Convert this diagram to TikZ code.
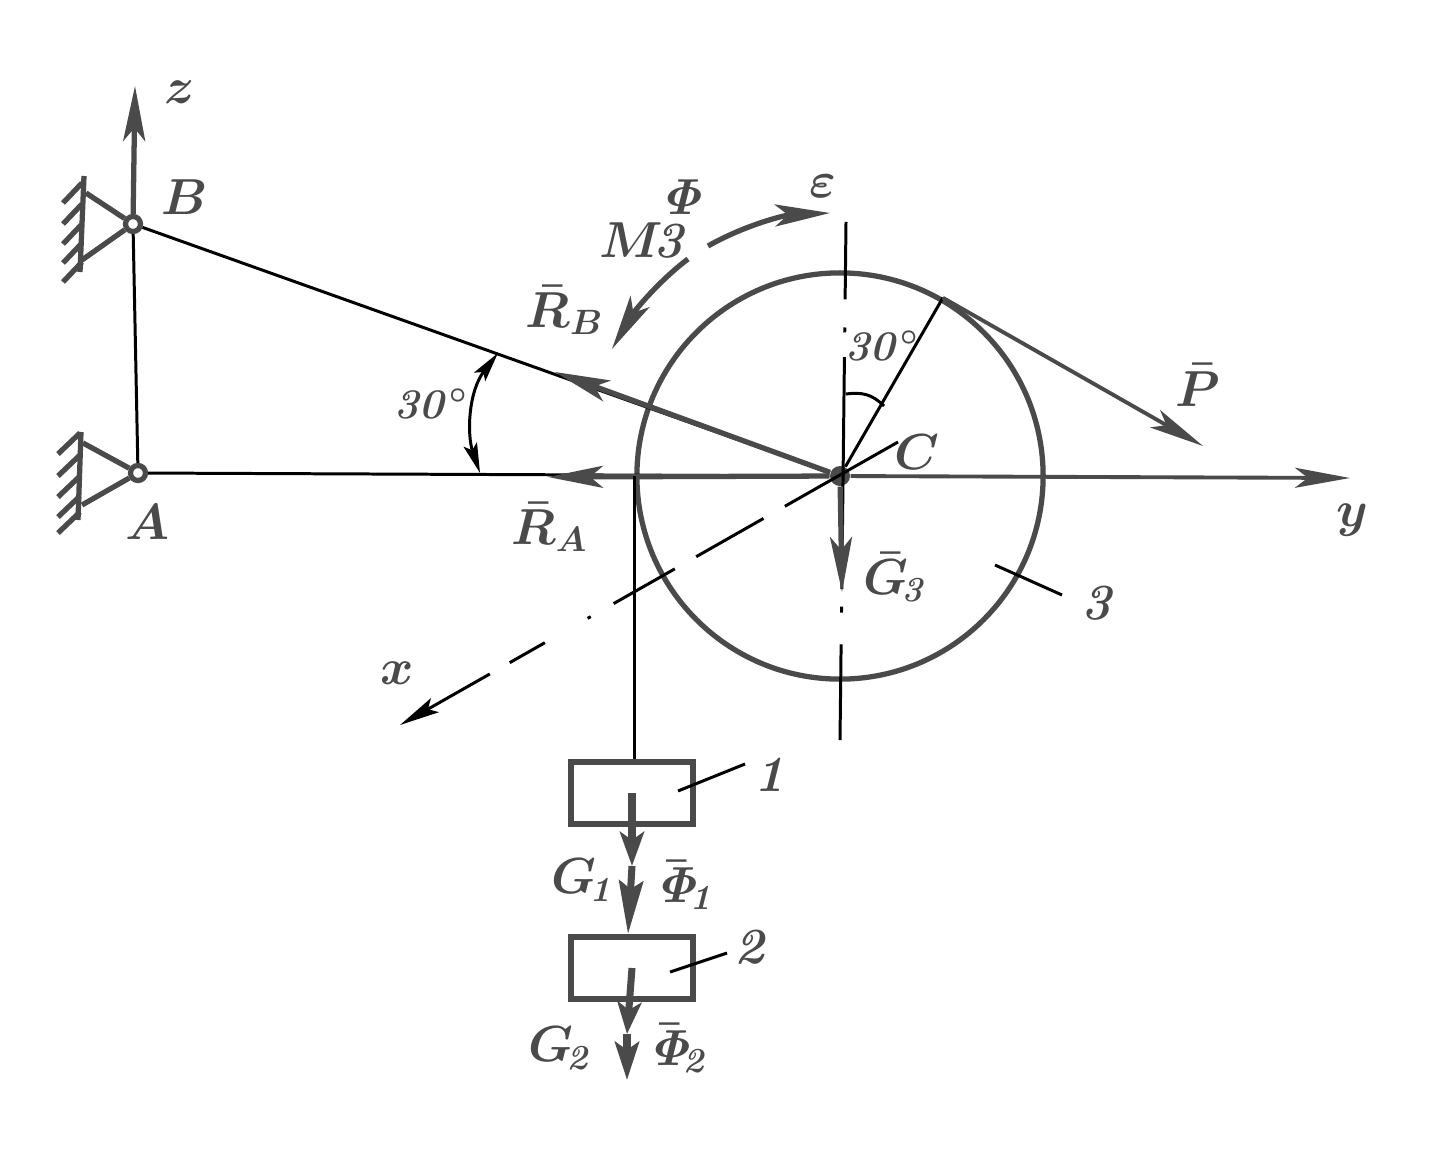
\documentclass[tikz,border=0pt]{standalone}
\usepackage{amsmath}
\usepackage{amssymb}
\usepackage{tikz}
\usetikzlibrary{arrows.meta}
\definecolor{inkgray}{HTML}{4A4A4A}
\tikzset{
    thinline/.style = {
        draw=black,
        line width=0.85pt
    },
    heavyline/.style = {
        draw=inkgray,
        line width=1.5pt
    },
    forcearrow/.style = {
        heavyline,
        -{Stealth[length=5.5mm,width=2.2mm,inset=1.3mm]}
    },
    axisarrow/.style = {
        draw=inkgray,
        line width=1.1pt,
        -{Stealth[length=5.5mm,width=2mm,inset=1.3mm]}
    },
    loadarrow/.style = {
        draw=inkgray,
        line width=2pt,
        -{Stealth[length=#1,width=2.4mm,inset=0.8mm]}
    },
    dimarrow/.style = {
        thinline,
        {Stealth[length=3mm,width=1.4mm,inset=0.6mm]}-{Stealth[length=3mm,width=1.4mm,inset=0.6mm]}
    },
    pinnode/.style = {
        circle,
        draw=inkgray,
        fill=white,
        line width=1.5pt,
        minimum size=1.5mm,
        inner sep=0pt
    },
    hubnode/.style = {
        circle,
        fill=inkgray,
        minimum size=2mm,
        inner sep=0pt
    },
    wheelnode/.style = {
        circle,
        draw=inkgray,
        line width=1.5pt,
        minimum size=40.6mm,
        inner sep=0pt
    },
    loadnode/.style = {
        rectangle,
        draw=inkgray,
        line width=1.8pt,
        minimum width=12.2mm,
        minimum height=6.2mm,
        inner sep=0pt
    },
    lettering/.style = {
        text=inkgray,
        font=\boldmath\Large,
        inner sep=0pt
    },
    smalllettering/.style = {
        lettering,
        font=\boldmath\large
    }
}
\begin{document}
\begin{tikzpicture}[x=0.01cm,y=-0.01cm]
    \useasboundingbox (0,0) rectangle (1434,1170);

    \node [wheelnode] (wheel) at (840,476) {};
    \node [hubnode] (hubC) at (840,476) {};
    \node [pinnode] (pinB) at (133,224) {};
    \node [pinnode] (pinA) at (138,473) {};
    \node [loadnode] (loadA) at (632,793) {};
    \node [loadnode] (loadB) at (632,968) {};

    \coordinate (topZ) at (135,86);
    \coordinate (tipRB) at (555,372);
    \coordinate (tipRA) at (548,477);
    \coordinate (tipY) at (1350,478);
    \coordinate (tipP) at (1203,446);
    \coordinate (tipG) at (842,592);
    \coordinate (startX) at (898,442);
    \coordinate (tipX) at (400,725);
    \coordinate (topV) at (846,222);
    \coordinate (endV) at (840,740);

    % supports
    \draw [heavyline] (84,176) -- (80,272);
    \draw [heavyline] (81,432) -- (78,520);
    \foreach \hy in {183,204,224,243,262} {
        \draw [heavyline] (82,\hy) -- ++(-19,20);
    }
    \foreach \hy in {433,455,476,496,512} {
        \draw [heavyline] (80,\hy) -- ++(-22,21);
    }
    \draw [heavyline] (86,193) -- (pinB);
    \draw [heavyline] (82,260) -- (pinB);
    \draw [heavyline] (83,443) -- (pinA);
    \draw [heavyline] (82,505) -- (pinA);

    % axes
    \draw [thinline] (pinA) -- (pinB);
    \draw [forcearrow] (pinB) -- (topZ);
    \draw [thinline] (pinB) -- (hubC);
    \draw [thinline] (pinA) -- (hubC);
    \draw [axisarrow] (hubC) -- (tipY);
    \draw [thinline,dash pattern=on 37pt off 7pt on 22pt off 7pt on 20pt off 7.5pt on 1pt off 14pt on 11.5pt off 6.5pt on 40pt,-{Stealth[length=4mm,width=1.6mm,inset=0.8mm]}] (startX) -- (tipX);
    \draw [thinline,dash pattern=on 22pt off 8pt on 1.4pt off 7pt on 66pt off 5pt on 1.7pt off 9pt on 30pt] (topV) -- (endV);

    % forces
    \draw [forcearrow] (hubC) -- (tipRB);
    \draw [forcearrow] (hubC) -- (tipRA);
    \draw [forcearrow] (hubC) -- (tipG);
    \draw [thinline] (hubC) -- (wheel.60);
    \draw [axisarrow] (wheel.60) -- (tipP);

    % angles and moments
    \coordinate (angleTop) at (498,353);
    \coordinate (angleBottom) at (480,473);
    \draw [dimarrow] (angleTop) .. controls (468,392) and (467,435) .. (angleBottom);
    \coordinate (radTop) at (846,394);
    \coordinate (radBottom) at (884,406);
    \draw [thinline] (radTop) .. controls (862,392) and (872,394) .. (radBottom);
    \coordinate (momentStart) at (688,259);
    \coordinate (momentTip) at (612,349);
    \draw [forcearrow] (momentStart) .. controls (660,280) and (635,310) .. (momentTip);
    \coordinate (epsStart) at (708,246);
    \coordinate (epsTip) at (830,213);
    \draw [forcearrow] (epsStart) .. controls (745,225) and (785,215) .. (epsTip);

    % loads
    \draw [thinline] (wheel.180) -- (loadA.north -| wheel.180);
    \coordinate (tipG1) at (632,866);
    \coordinate (tipF1) at (628,934);
    \coordinate (tipG2) at (627,1034);
    \coordinate (tipF2) at (627,1080);
    \draw [loadarrow=3.4mm] (loadA.center) -- (tipG1);
    \draw [loadarrow=5.3mm] (tipG1) -- (tipF1);
    \draw [loadarrow=3.2mm] (loadB.center) -- (tipG2);
    \draw [loadarrow=3.8mm] (tipG2) -- (tipF2);

    % labels
    \coordinate (leadA) at (678,791);
    \coordinate (leadB) at (670,972);
    \coordinate (leadC) at (995,565);
    \coordinate (endA) at (745,764);
    \coordinate (endB) at (727,953);
    \coordinate (endC) at (1062,595);
    \draw [thinline] (leadA) -- (endA);
    \draw [thinline] (leadB) -- (endB);
    \draw [thinline] (leadC) -- (endC);
    \node [lettering] (numA) at (773,775) {$\mathit{1}$};
    \node [lettering] (numB) at (753,947) {$\mathit{2}$};
    \node [lettering] (numC) at (1100,603) {$\mathit{3}$};

    \node [lettering] (labelZ) at (180,92) {$z$};
    \node [lettering] (labelB) at (185,197) {$B$};
    \node [lettering] (labelA) at (148,522) {$A$};
    \node [lettering] (labelC) at (917,452) {$C$};
    \node [lettering] (labelY) at (1352,520) {$y$};
    \node [lettering] (labelX) at (397,673) {$x$};
    \node [lettering] (labelRB) at (565,310) {$\bar{R}_B$};
    \node [lettering] (labelRA) at (550,527) {$\bar{R}_A$};
    \node [lettering] (labelGC) at (896,577) {$\bar{G}_{\!\mathit{3}}$};
    \node [lettering] (labelP) at (1198,385) {$\bar{P}$};
    \node [lettering] (labelM) at (645,240) {$M\!\mathit{3}$};
    \node [lettering] (labelPhi) at (682,197) {$\mathit{\Phi}$};
    \node [lettering] (labelEps) at (823,186) {$\varepsilon$};
    \node [smalllettering] (labelAngleA) at (431,404) {$\mathit{30}^\circ$};
    \node [smalllettering] (labelAngleB) at (882,346) {$\mathit{30}^\circ$};
    \node [lettering] (labelGA) at (584,880) {$G_{\!\mathit{1}}$};
    \node [lettering] (labelFA) at (686,885) {$\bar{\mathit{\Phi}}_{\!\mathit{1}}$};
    \node [lettering] (labelGB) at (561,1048) {$G_{\!\mathit{2}}$};
    \node [lettering] (labelFB) at (679,1048) {$\bar{\mathit{\Phi}}_{\!\mathit{2}}$};
\end{tikzpicture}
\end{document}
